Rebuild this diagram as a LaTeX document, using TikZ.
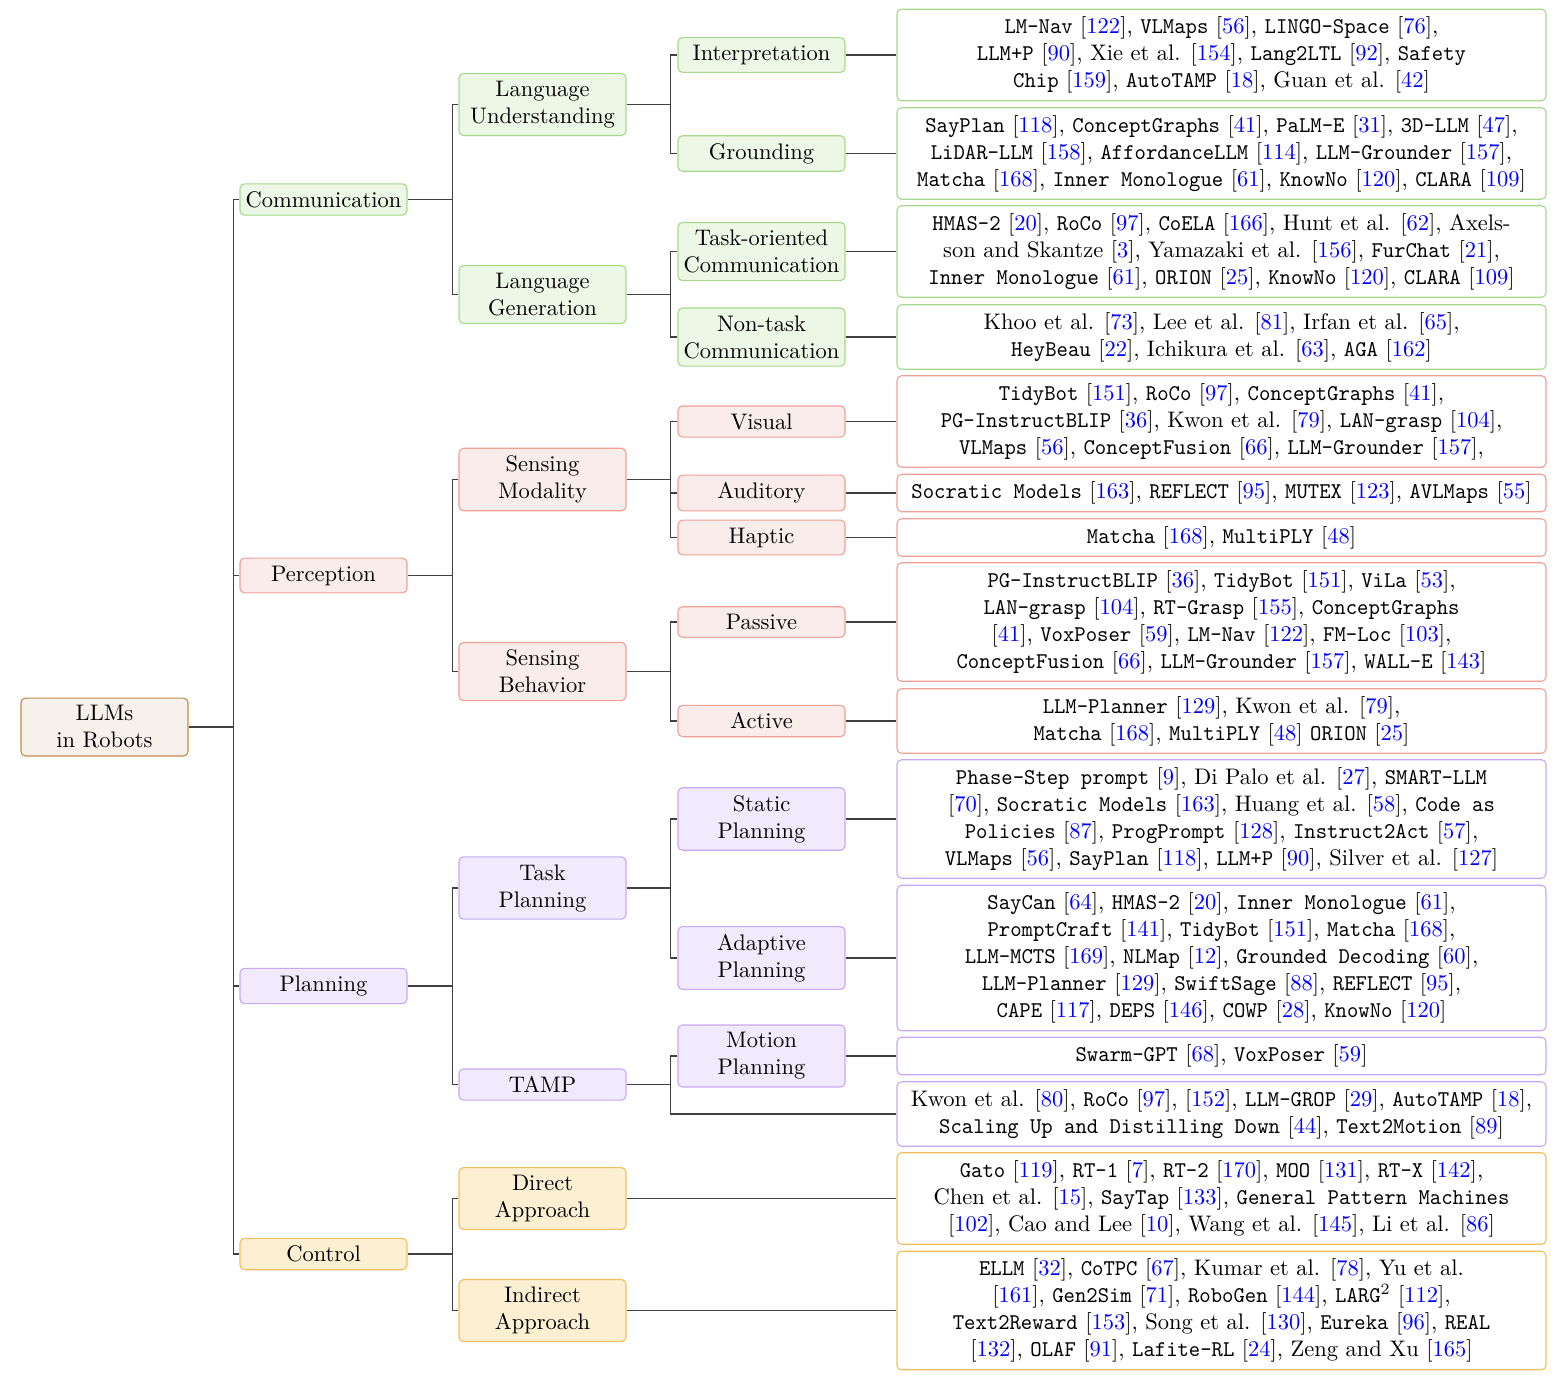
\documentclass[tikz,border=0pt]{standalone}
\usepackage{graphicx}
\definecolor{rootfill}{RGB}{246,241,235}
\definecolor{rootdraw}{RGB}{196,138,74}
\definecolor{grfill}{RGB}{236,247,229}
\definecolor{grdraw}{RGB}{165,218,140}
\definecolor{rdfill}{RGB}{249,236,234}
\definecolor{rddraw}{RGB}{240,160,150}
\definecolor{pufill}{RGB}{241,234,253}
\definecolor{pudraw}{RGB}{200,168,245}
\definecolor{orfill}{RGB}{252,239,210}
\definecolor{ordraw}{RGB}{244,190,90}
\newcommand\cit[1]{[\textcolor{blue}{#1}]}
\newcommand\tx[1]{\scalebox{0.962}[1]{\texttt{#1}}}
\tikzset{
  box/.style={rounded corners=2pt, line width=0.5pt, align=center, inner xsep=1.5pt, minimum width=74.2pt},
  leaf/.style={rounded corners=2pt, line width=0.5pt, align=center, inner xsep=1pt, minimum width=288.4pt, fill=white},
  rootbox/.style={box, fill=rootfill, draw=rootdraw},
  gbox/.style={box, fill=grfill, draw=grdraw},
  rbox/.style={box, fill=rdfill, draw=rddraw},
  pbox/.style={box, fill=pufill, draw=pudraw},
  obox/.style={box, fill=orfill, draw=ordraw},
  gleaf/.style={leaf, draw=grdraw},
  rleaf/.style={leaf, draw=rddraw},
  pleaf/.style={leaf, draw=pudraw},
  oleaf/.style={leaf, draw=ordraw},
  edge/.style={draw=black!75, line width=0.55pt}
}
\begin{document}
\begin{tikzpicture}[x=0.4444pt,y=-0.4444pt]
\useasboundingbox (0,0) rectangle (1562,1388);
% root
\node[rootbox] (root) at (104.5,727) {LLMs\\in Robots};
% level 1
\node[gbox] (comm) at (323.5,199.5) {Communication};
\node[rbox] (perc) at (323.5,575.5) {Perception};
\node[pbox] (plan) at (323.5,986) {Planning};
\node[obox] (ctrl) at (323.5,1254) {Control};
% level 2
\node[gbox] (langu) at (542.5,104.5) {Language\\Understanding};
\node[gbox] (langg) at (542.5,294.5) {Language\\Generation};
\node[rbox] (sensm) at (542.5,479.5) {Sensing\\Modality};
\node[rbox] (sensb) at (542.5,671.5) {Sensing\\Behavior};
\node[pbox] (taskp) at (542.5,888) {Task\\Planning};
\node[pbox] (tamp) at (542.5,1084.5) {TAMP};
\node[obox] (direct) at (542.5,1198.5) {Direct\\Approach};
\node[obox] (indirect) at (542.5,1310.5) {Indirect\\Approach};
% level 3
\node[gbox] (interp) at (761.5,55) {Interpretation};
\node[gbox] (ground) at (761.5,153.5) {Grounding};
\node[gbox] (taskc) at (761.5,251.5) {Task-oriented\\Communication};
\node[gbox] (nontask) at (761.5,337) {Non-task\\Communication};
\node[rbox] (visual) at (761.5,421.5) {Visual};
\node[rbox] (audit) at (761.5,493) {Auditory};
\node[rbox] (haptic) at (761.5,537.5) {Haptic};
\node[rbox] (passive) at (761.5,622) {Passive};
\node[rbox] (active) at (761.5,721) {Active};
\node[pbox] (static) at (761.5,819) {Static\\Planning};
\node[pbox] (adapt) at (761.5,958) {Adaptive\\Planning};
\node[pbox] (motion) at (761.5,1056) {Motion\\Planning};
% leaves
\node[gleaf] (l1) at (1221.5,55) {\tx{LM-Nav} \cit{122}, \tx{VLMaps} \cit{56}, \tx{LINGO-Space} \cit{76},\\ \tx{LLM+P} \cit{90}, Xie et al. \cit{154}, \tx{Lang2LTL} \cit{92}, \tx{Safety}\\ \tx{Chip} \cit{159}, \tx{AutoTAMP} \cit{18}, Guan et al. \cit{42}};
\node[gleaf] (l2) at (1221.5,153.5) {\tx{SayPlan} \cit{118}, \tx{ConceptGraphs} \cit{41}, \tx{PaLM-E} \cit{31}, \tx{3D-LLM} \cit{47},\\ \tx{LiDAR-LLM} \cit{158}, \tx{AffordanceLLM} \cit{114}, \tx{LLM-Grounder} \cit{157},\\ \tx{Matcha} \cit{168}, \tx{Inner Monologue} \cit{61}, \tx{KnowNo} \cit{120}, \tx{CLARA} \cit{109}};
\node[gleaf] (l3) at (1221.5,251.5) {\tx{HMAS-2} \cit{20}, \tx{RoCo} \cit{97}, \tx{CoELA} \cit{166}, Hunt et al. \cit{62}, Axels-\\son and Skantze \cit{3}, Yamazaki et al. \cit{156}, \tx{FurChat} \cit{21},\\ \tx{Inner Monologue} \cit{61}, \tx{ORION} \cit{25}, \tx{KnowNo} \cit{120}, \tx{CLARA} \cit{109}};
\node[gleaf] (l4) at (1221.5,337) {Khoo et al. \cit{73}, Lee et al. \cit{81}, Irfan et al. \cit{65},\\ \tx{HeyBeau} \cit{22}, Ichikura et al. \cit{63}, \tx{AGA} \cit{162}};
\node[rleaf] (l5) at (1221.5,421.5) {\tx{TidyBot} \cit{151}, \tx{RoCo} \cit{97}, \tx{ConceptGraphs} \cit{41},\\ \tx{PG-InstructBLIP} \cit{36}, Kwon et al. \cit{79}, \tx{LAN-grasp} \cit{104},\\ \tx{VLMaps} \cit{56}, \tx{ConceptFusion} \cit{66}, \tx{LLM-Grounder} \cit{157},};
\node[rleaf] (l6) at (1221.5,493) {\tx{Socratic Models} \cit{163}, \tx{REFLECT} \cit{95}, \tx{MUTEX} \cit{123}, \tx{AVLMaps} \cit{55}};
\node[rleaf] (l7) at (1221.5,537.5) {\tx{Matcha} \cit{168}, \tx{MultiPLY} \cit{48}};
\node[rleaf] (l8) at (1221.5,622) {\tx{PG-InstructBLIP} \cit{36}, \tx{TidyBot} \cit{151}, \tx{ViLa} \cit{53},\\ \tx{LAN-grasp} \cit{104}, \tx{RT-Grasp} \cit{155}, \tx{ConceptGraphs}\\ \cit{41}, \tx{VoxPoser} \cit{59}, \tx{LM-Nav} \cit{122}, \tx{FM-Loc} \cit{103},\\ \tx{ConceptFusion} \cit{66}, \tx{LLM-Grounder} \cit{157}, \tx{WALL-E} \cit{143}};
\node[rleaf] (l9) at (1221.5,721) {\tx{LLM-Planner} \cit{129}, Kwon et al. \cit{79},\\ \tx{Matcha} \cit{168}, \tx{MultiPLY} \cit{48} \tx{ORION} \cit{25}};
\node[pleaf] (l10) at (1221.5,819) {\tx{Phase-Step prompt} \cit{9}, Di Palo et al. \cit{27}, \tx{SMART-LLM}\\ \cit{70}, \tx{Socratic Models} \cit{163}, Huang et al. \cit{58}, \tx{Code as}\\ \tx{Policies} \cit{87}, \tx{ProgPrompt} \cit{128}, \tx{Instruct2Act} \cit{57},\\ \tx{VLMaps} \cit{56}, \tx{SayPlan} \cit{118}, \tx{LLM+P} \cit{90}, Silver et al. \cit{127}};
\node[pleaf] (l11) at (1221.5,958) {\tx{SayCan} \cit{64}, \tx{HMAS-2} \cit{20}, \tx{Inner Monologue} \cit{61},\\ \tx{PromptCraft} \cit{141}, \tx{TidyBot} \cit{151}, \tx{Matcha} \cit{168},\\ \tx{LLM-MCTS} \cit{169}, \tx{NLMap} \cit{12}, \tx{Grounded Decoding} \cit{60},\\ \tx{LLM-Planner} \cit{129}, \tx{SwiftSage} \cit{88}, \tx{REFLECT} \cit{95},\\ \tx{CAPE} \cit{117}, \tx{DEPS} \cit{146}, \tx{COWP} \cit{28}, \tx{KnowNo} \cit{120}};
\node[pleaf] (l12) at (1221.5,1056) {\tx{Swarm-GPT} \cit{68}, \tx{VoxPoser} \cit{59}};
\node[pleaf] (l13) at (1221.5,1114) {Kwon et al. \cit{80}, \tx{RoCo} \cit{97}, \cit{152}, \tx{LLM-GROP} \cit{29}, \tx{AutoTAMP} \cit{18},\\ \tx{Scaling Up and Distilling Down} \cit{44}, \tx{Text2Motion} \cit{89}};
\node[oleaf] (l14) at (1221.5,1198.5) {\tx{Gato} \cit{119}, \tx{RT-1} \cit{7}, \tx{RT-2} \cit{170}, \tx{MOO} \cit{131}, \tx{RT-X} \cit{142},\\ Chen et al. \cit{15}, \tx{SayTap} \cit{133}, \tx{General Pattern Machines}\\ \cit{102}, Cao and Lee \cit{10}, Wang et al. \cit{145}, Li et al. \cit{86}};
\node[oleaf] (l15) at (1221.5,1310.5) {\tx{ELLM} \cit{32}, \tx{CoTPC} \cit{67}, Kumar et al. \cit{78}, Yu et al.\\ \cit{161}, \tx{Gen2Sim} \cit{71}, \tx{RoboGen} \cit{144}, \tx{LARG}$^2$ \cit{112},\\ \tx{Text2Reward} \cit{153}, Song et al. \cit{130}, \tx{Eureka} \cit{96}, \tx{REAL}\\ \cit{132}, \tx{OLAF} \cit{91}, \tx{Lafite-RL} \cit{24}, Zeng and Xu \cit{165}};
% forked edges: parent / first child / last child / fork distance
\foreach \p/\a/\b/\d in {root/comm/ctrl/45, comm/langu/langg/45, perc/sensm/sensb/45, plan/taskp/tamp/45, ctrl/direct/indirect/45, langu/interp/ground/44, langg/taskc/nontask/44, sensm/visual/haptic/44, sensb/passive/active/44, taskp/static/adapt/44, tamp/motion/l13/44}{
  \path (\p.east) ++(\d,0) coordinate (fk);
  \draw[edge] (\p.east) -- (fk);
  \draw[edge] (\a.west) -| (fk) |- (\b.west);
}
% middle children of forks
\path (root.east) ++(45,0) coordinate (fr);
\draw[edge] (fr |- perc.west) -- (perc.west);
\draw[edge] (fr |- plan.west) -- (plan.west);
\path (sensm.east) ++(44,0) coordinate (fs);
\draw[edge] (fs |- audit.west) -- (audit.west);
% single-child edges
\foreach \p/\c in {interp/l1,ground/l2,taskc/l3,nontask/l4,visual/l5,audit/l6,haptic/l7,passive/l8,active/l9,static/l10,adapt/l11,motion/l12,direct/l14,indirect/l15}
  \draw[edge] (\p.east) -- (\c.west);
\end{tikzpicture}
\end{document}
